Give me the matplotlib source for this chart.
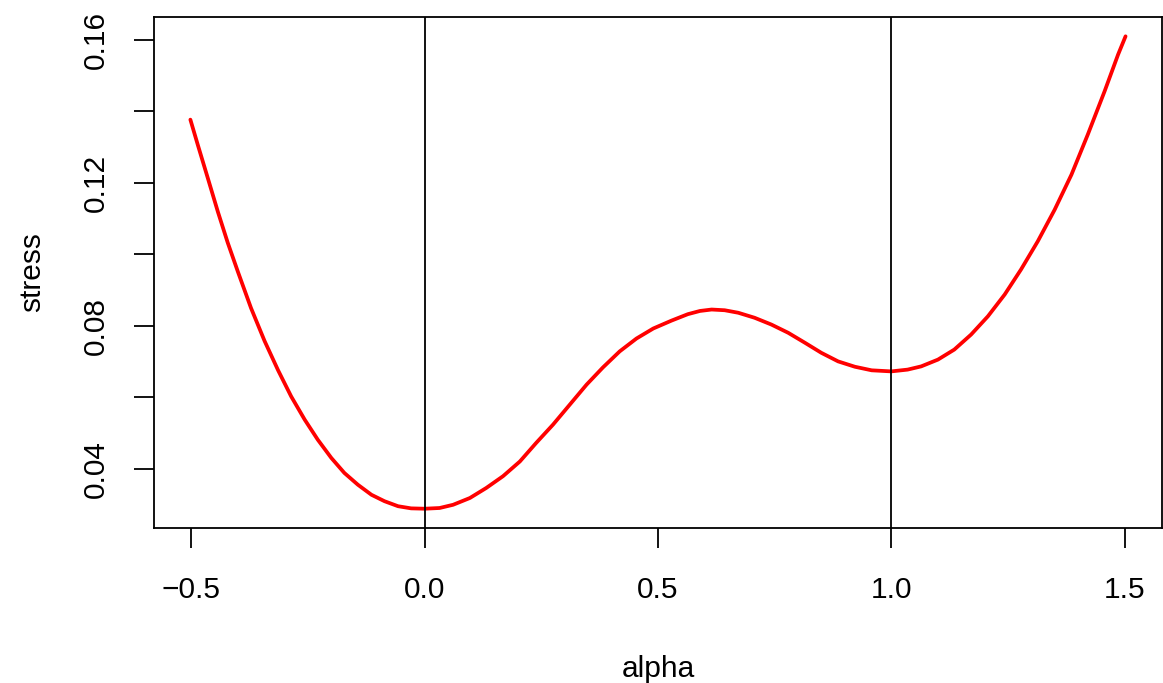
import matplotlib.pyplot as plt

plt.rcParams['font.family'] = ['Liberation Sans', 'DejaVu Sans']

# points
alpha = [-0.502, -0.486, -0.465, -0.443, -0.422, -0.400, -0.372, -0.343, -0.314, -0.286,
         -0.257, -0.229, -0.200, -0.172, -0.143, -0.114, -0.086, -0.057, -0.029, 0.000,
         0.032, 0.061, 0.097, 0.132, 0.168, 0.204, 0.239, 0.275, 0.311, 0.347,
         0.382, 0.418, 0.454, 0.490, 0.529, 0.564, 0.590, 0.615, 0.643, 0.672, 0.707, 0.743,
         0.779, 0.815, 0.850, 0.886, 0.922, 0.958, 1.000, 1.035, 1.064, 1.100,
         1.135, 1.171, 1.207, 1.243, 1.278, 1.314, 1.350, 1.386, 1.421, 1.457,
         1.486, 1.502]
stress = [0.1376, 0.1305, 0.1214, 0.1118, 0.1032, 0.0950, 0.0849, 0.0757, 0.0675, 0.0602,
          0.0537, 0.0481, 0.0430, 0.0388, 0.0355, 0.0327, 0.0309, 0.0295, 0.0289, 0.0288,
          0.0290, 0.0299, 0.0318, 0.0346, 0.0379, 0.0420, 0.0472, 0.0523, 0.0579, 0.0635,
          0.0683, 0.0728, 0.0764, 0.0792, 0.0814, 0.0832, 0.0841, 0.0845, 0.0843, 0.0836, 0.0822, 0.0803,
          0.0780, 0.0752, 0.0724, 0.0700, 0.0685, 0.0675, 0.0672, 0.0677, 0.0686, 0.0705,
          0.0733, 0.0775, 0.0826, 0.0887, 0.0957, 0.1036, 0.1124, 0.1222, 0.1334, 0.1455,
          0.1558, 0.1609]
vlines = [0.0, 1.0]
xticks = [-0.5, 0.0, 0.5, 1.0, 1.5]
xtick_labels = ['\u22120.5', '0.0', '0.5', '1.0', '1.5']
yticks = [0.04, 0.06, 0.08, 0.10, 0.12, 0.14, 0.16]
ytick_labels = ['0.04', '', '0.08', '', '0.12', '', '0.16']

fig = plt.figure(figsize=(11.63, 6.83), dpi=100)
ax = fig.add_axes([0.1324, 0.2269, 0.8667, 0.7482])

ax.plot(alpha, stress, color='red', lw=2.7, solid_capstyle='round', solid_joinstyle='round')
for v in vlines:
    ax.axvline(v, color='black', lw=1.3)

ax.set_xlim(-0.58, 1.58)
ax.set_ylim(0.0234, 0.1663)
ax.set_xticks(xticks)
ax.set_xticklabels(xtick_labels)
ax.set_yticks(yticks)
ax.set_yticklabels(ytick_labels, rotation=90, va='center')
ax.tick_params(direction='out', length=14.4, width=1.3, labelsize=21.5)
ax.tick_params(axis='x', pad=20)
ax.tick_params(axis='y', pad=17)
for s in ax.spines.values():
    s.set_linewidth(1.3)

ax.set_xlabel('alpha', fontsize=21.5, labelpad=37)
ax.set_ylabel('stress', fontsize=21.5, labelpad=26)

fig.savefig('out.png', dpi=100)
